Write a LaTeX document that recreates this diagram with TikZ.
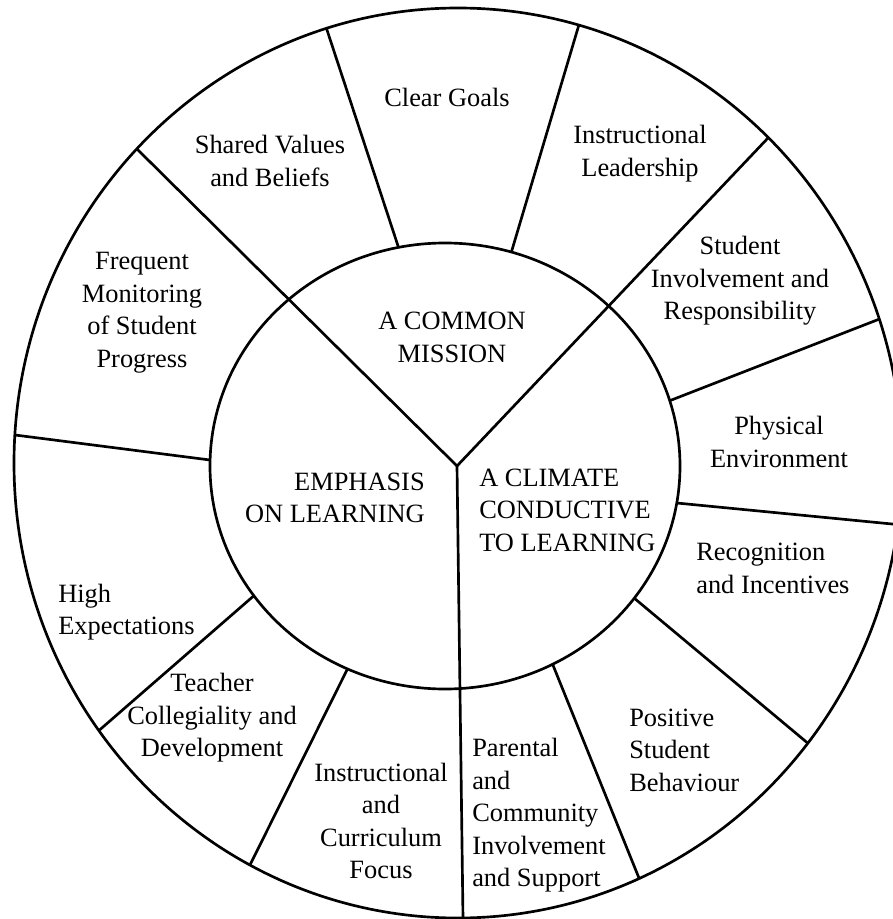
\documentclass[tikz,border=0pt]{standalone}
\usepackage{fontspec}
\setmainfont{Liberation Serif}
\usepackage{tikz}

\newcommand{\wheelfont}{\fontsize{19.8}{24.4}\selectfont}

\begin{document}
\begin{tikzpicture}[x=0.75pt,y=0.75pt,yscale=-1,xscale=1,
  ringline/.style={line width=2pt},
  ringtext/.style={inner sep=0.75pt,font=\wheelfont,align=center},
  westtext/.style={ringtext,align=left,anchor=west},
  easttext/.style={ringtext,align=right,anchor=east}]
\useasboundingbox (0,0) rectangle (892,919);

\coordinate (hub) at (457,466);

\begin{scope}
\clip (458,463) ellipse [x radius=444, y radius=455];
%Straight Lines
\draw [ringline] (hub) -- (106.1,118.4) ;
\draw [ringline] (hub) -- (799.1,105.2) ;
\draw [ringline] (hub) -- (463.6,964.3) ;
%Straight Lines
\draw [ringline] (398.5,247.4) -- (312.7,-13.5) ;
\draw [ringline] (511.4,252.0) -- (591.3,-16.8) ;
\draw [ringline] (669.7,400.7) -- (924.5,301.5) ;
\draw [ringline] (676.7,503.0) -- (935.1,528.2) ;
\draw [ringline] (634.0,598.0) -- (845.2,774.4) ;
\draw [ringline] (552.6,664.2) -- (661.1,932.8) ;
\draw [ringline] (347.5,668.9) -- (223.3,918.6) ;
\draw [ringline] (253.9,595.7) -- (54.8,768.9) ;
\draw [ringline] (210.1,460.0) -- (-24.0,430.0) ;
\end{scope}

%Shape: Ellipse
\draw [ringline] (458,463) ellipse [x radius=444, y radius=455];
%Shape: Ellipse
\draw [ringline] (445,466) ellipse [x radius=235, y radius=223];

% Text Node
\draw (452,337.5) node (mission) [ringtext] {A COMMON\\MISSION};
% Text Node
\draw (426,498) node (emphasis) [easttext] {EMPHASIS\\ON LEARNING};
% Text Node
\draw (478,510) node (climate) [westtext] {A CLIMATE\\CONDUCTIVE\\TO LEARNING};

% Text Node
\draw (447,97) node (goals) [ringtext] {Clear Goals};
% Text Node
\draw (640,153.5) node (leadership) [ringtext] {Instructional\\Leadership};
% Text Node
\draw (740,281) node (involvement) [ringtext] {Student\\Involvement and\\Responsibility};
% Text Node
\draw (779,442) node (physical) [ringtext] {Physical\\Environment};
% Text Node
\draw (695,568.5) node (recognition) [westtext] {Recognition\\and Incentives};
% Text Node
\draw (628,750) node (behaviour) [westtext] {Positive\\Student\\Behaviour};
% Text Node
\draw (471,815.5) node (parental) [westtext] {Parental\\and\\Community\\Involvement\\and Support};
% Text Node
\draw (381,821) node (curriculum) [ringtext] {Instructional\\and\\Curriculum\\Focus};
% Text Node
\draw (212,718) node (collegiality) [ringtext] {Teacher\\Collegiality and\\Development};
% Text Node
\draw (57,612) node (expectations) [westtext] {High\\Expectations};
% Text Node
\draw (142,312.5) node (monitoring) [ringtext] {Frequent\\Monitoring\\of Student\\Progress};
% Text Node
\draw (270,161) node (values) [ringtext] {Shared Values\\and Beliefs};

\end{tikzpicture}
\end{document}
